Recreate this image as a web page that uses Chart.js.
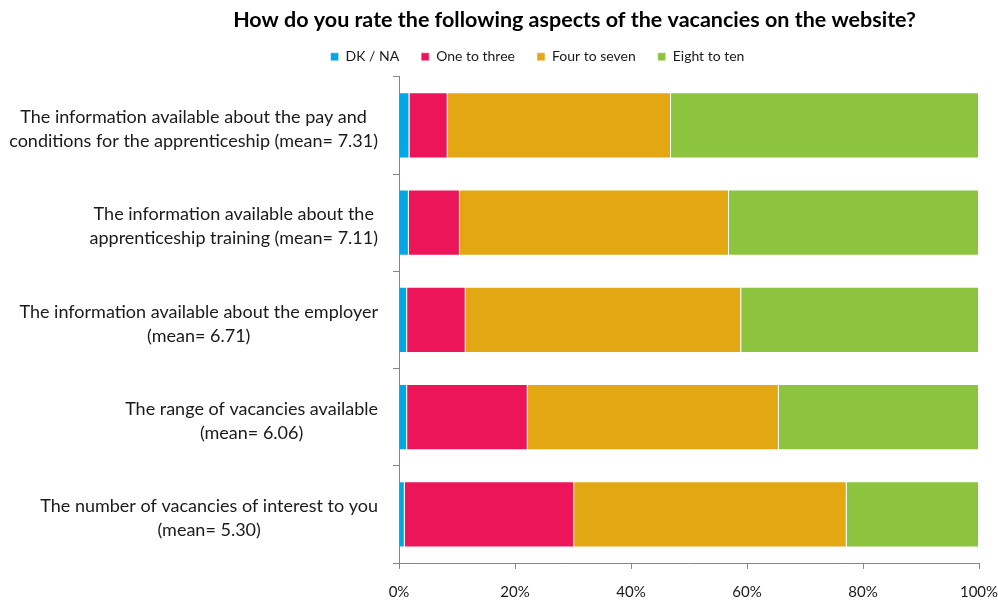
<!DOCTYPE html>
<html>
<head>
<meta charset="utf-8">
<script src="https://cdn.jsdelivr.net/npm/chart.js@4.4.1/dist/chart.umd.min.js"></script>
<style>
  html, body { margin: 0; padding: 0; background: #fff; }
  #wrap { width: 998px; height: 601px; }
</style>
</head>
<body>
<div id="wrap"><canvas id="ratingChart"></canvas></div>
<script>
// Rating questions, each label split over two lines
var categories = [
    ['The information available about the pay and', 'conditions for the apprenticeship (mean= 7.31)'],
    ['The information available about the', 'apprenticeship training (mean= 7.11)'],
    ['The information available about the employer', '(mean= 6.71)'],
    ['The range of vacancies available', '(mean= 6.06)'],
    ['The number of vacancies of interest to you', '(mean= 5.30)']
];

var seriesNames = ['DK / NA', 'One to three', 'Four to seven', 'Eight to ten'];

// Share of respondents (%)
var dkNa = [1.8, 1.7, 1.4, 1.4, 1.0];
var oneToThree = [6.6, 8.8, 10.1, 20.8, 29.2];
var fourToSeven = [38.5, 46.4, 47.5, 43.3, 47.0];
var eightToTen = [53.1, 43.1, 41.0, 34.5, 22.8];

var xTicks = [0, 20, 40, 60, 80, 100];

var colors = ['#00a7e7', '#ec1559', '#e3a713', '#8cc43f'];
var fontFamily = 'Lato, "DejaVu Sans", sans-serif';

// Category labels: each label's lines centred on each other, right edge by the axis
var categoryLabels = {
    id: 'categoryLabels',
    afterDraw: function (chart) {
        var ctx = chart.ctx;
        var yScale = chart.scales.y;
        var rightEdge = yScale.right - 21;
        ctx.save();
        ctx.font = '18px ' + fontFamily;
        ctx.fillStyle = '#1a1a1a';
        ctx.textAlign = 'center';
        ctx.textBaseline = 'middle';
        categories.forEach(function (lines, i) {
            var maxW = 0;
            lines.forEach(function (l) { maxW = Math.max(maxW, ctx.measureText(l).width); });
            var cx = rightEdge - maxW / 2;
            var cy = yScale.getPixelForValue(i) + 4;
            var lh = 24;
            lines.forEach(function (l, k) {
                ctx.fillText(l, cx, cy + (k - (lines.length - 1) / 2) * lh);
            });
        });
        ctx.restore();
    }
};

// Title and legend sit off-centre over the plot
var headerShift = {
    id: 'headerShift',
    afterLayout: function (chart) {
        if (chart.titleBlock) { chart.titleBlock.left += 85; chart.titleBlock.right += 85; }
        if (chart.legend) {
            chart.legend.left += 48; chart.legend.right += 48;
            chart.legend.top -= 3; chart.legend.bottom -= 3;
        }
    }
};

var ctx = document.getElementById('ratingChart').getContext('2d');
var chart = new Chart(ctx, {
    type: 'bar',
    data: {
        labels: categories.map(function (c) { return c.join(' '); }),
        datasets: [
            { label: seriesNames[0], data: dkNa, backgroundColor: colors[0] },
            { label: seriesNames[1], data: oneToThree, backgroundColor: colors[1] },
            { label: seriesNames[2], data: fourToSeven, backgroundColor: colors[2] },
            { label: seriesNames[3], data: eightToTen, backgroundColor: colors[3] }
        ].map(function (d) {
            d.borderColor = 'rgba(255,255,255,0.45)';
            d.borderWidth = 1;
            d.barPercentage = 0.68;
            d.categoryPercentage = 1.0;
            return d;
        })
    },
    options: {
        indexAxis: 'y',
        responsive: true,
        maintainAspectRatio: false,
        animation: false,
        layout: { padding: { left: 0, right: 19, top: 0, bottom: 0 } },
        plugins: {
            title: {
                display: true,
                text: 'How do you rate the following aspects of the vacancies on the website?',
                color: '#000',
                font: { family: fontFamily, size: 21.5, weight: 'bold' },
                padding: { top: 7, bottom: -2 }
            },
            legend: {
                labels: {
                    boxWidth: 8,
                    boxHeight: 8,
                    padding: 22,
                    color: '#1a1a1a',
                    font: { family: fontFamily, size: 14 }
                }
            },
            tooltip: { enabled: false }
        },
        scales: {
            x: {
                stacked: true,
                min: 0,
                max: 100,
                afterBuildTicks: function (s) {
                    s.ticks = xTicks.map(function (v) { return { value: v }; });
                },
                afterFit: function (s) {
                    s.height = 38;
                    s.paddingLeft = 0;
                    s.paddingRight = 0;
                },
                border: { color: '#868686', width: 1 },
                grid: { drawOnChartArea: false, drawTicks: true, tickLength: 6, color: '#868686' },
                ticks: {
                    padding: 14,
                    color: '#1a1a1a',
                    font: { family: fontFamily, size: 15 },
                    callback: function (v) { return v + '%'; }
                }
            },
            y: {
                stacked: true,
                afterFit: function (s) { s.width = 399; },
                border: { color: '#868686', width: 1 },
                grid: { drawOnChartArea: false, drawTicks: true, tickLength: 6, color: '#868686', offset: true },
                ticks: { display: false }
            }
        }
    },
    plugins: [categoryLabels, headerShift]
});
</script>
</body>
</html>
